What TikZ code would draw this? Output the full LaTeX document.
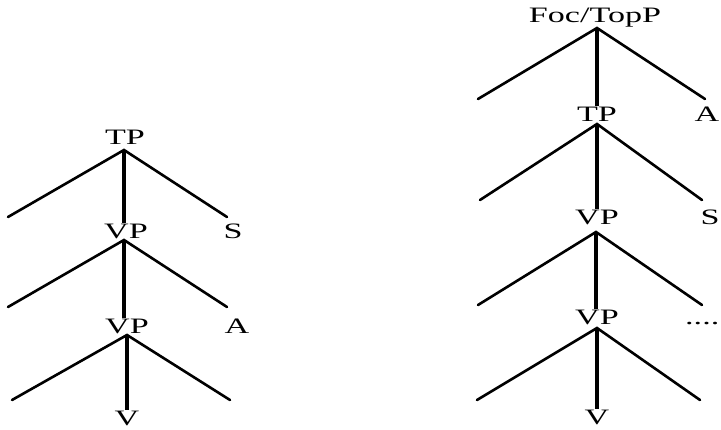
\documentclass[tikz,border=0pt]{standalone}
\usepackage{fontspec}
\newfontfamily\treefont[FakeStretch=1.55]{Liberation Serif}
\usetikzlibrary{positioning}
\tikzset{
    cat/.style={anchor=base, inner sep=1pt, text depth=0pt, font=\treefont\fontsize{22}{25}\selectfont},
    leg/.style={line width=2.6pt, line cap=round},
    stem/.style={line width=3.6pt}
}

\begin{document}
\begin{tikzpicture}[x=1pt, y=-1pt]
    \useasboundingbox (0,0) rectangle (721,430);
    % left tree
    \node[cat] (tpL) at (125,145) {TP};
    \node[cat] (vpLa) at (126,239) {VP};
    \node[cat] (sL) at (233,239) {S};
    \node[cat] (vpLb) at (127,334) {VP};
    \node[cat] (aL) at (237,334) {A};
    \node[cat] (vL) at (127,426) {V};
    \coordinate (tpLx) at (124,150);
    \coordinate (vpLax) at (124,240);
    \coordinate (vpLbx) at (127,335);
    \coordinate (l1) at (8,217);
    \coordinate (r1) at (227,217);
    \coordinate (l2) at (8,307);
    \coordinate (r2) at (227,307);
    \coordinate (l3) at (12,400);
    \coordinate (r3) at (230,400);
    \draw[leg] (l1) -- (tpLx) -- (r1);
    \draw[leg] (l2) -- (vpLax) -- (r2);
    \draw[leg] (l3) -- (vpLbx) -- (r3);
    \draw[stem] (tpLx) -- (tpLx |- vpLa.north);
    \draw[stem] (vpLax) -- (vpLax |- vpLb.north);
    \draw[stem] (vpLbx) -- (vpLbx |- vL.north);
    % right tree
    \node[cat] (focR) at (595,23) {Foc/TopP};
    \node[cat] (tpR) at (597,122) {TP};
    \node[cat] (aR) at (707,122) {A};
    \node[cat] (vpRa) at (597,225) {VP};
    \node[cat] (sR) at (710,225) {S};
    \node[cat] (vpRb) at (597,325) {VP};
    \node[cat, anchor=base west] (dotsR) at (684,325) {....};
    \node[cat] (vR) at (597,425) {V};
    \coordinate (focRx) at (597,28);
    \coordinate (tpRx) at (597,124);
    \coordinate (vpRax) at (596,232);
    \coordinate (vpRbx) at (597,328);
    \coordinate (l4) at (478,99);
    \coordinate (r4) at (705,99);
    \coordinate (l5) at (480,200);
    \coordinate (r5) at (702,200);
    \coordinate (l6) at (478,305);
    \coordinate (r6) at (702,305);
    \coordinate (l7) at (477,400);
    \coordinate (r7) at (700,400);
    \draw[leg] (l4) -- (focRx) -- (r4);
    \draw[leg] (l5) -- (tpRx) -- (r5);
    \draw[leg] (l6) -- (vpRax) -- (r6);
    \draw[leg] (l7) -- (vpRbx) -- (r7);
    \draw[stem] (focRx) -- (focRx |- tpR.north);
    \draw[stem] (tpRx) -- (tpRx |- vpRa.north);
    \draw[stem] (vpRax) -- (vpRax |- vpRb.north);
    \draw[stem] (vpRbx) -- (vpRbx |- vR.north);
\end{tikzpicture}
\end{document}
